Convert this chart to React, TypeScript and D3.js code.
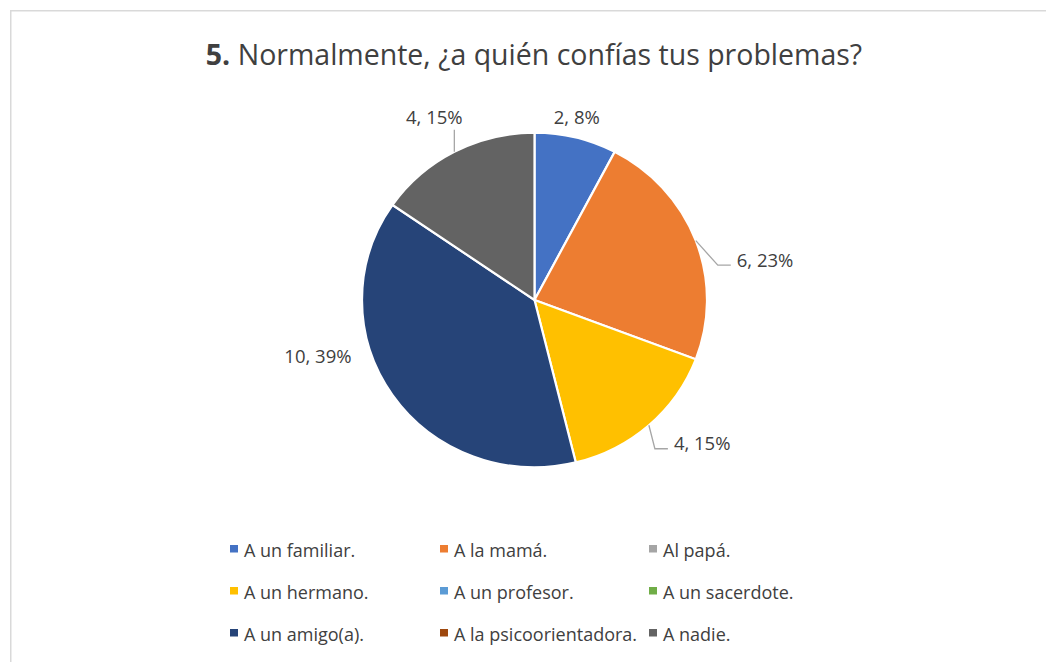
import React from "react";
import * as d3 from "d3";

const titleBold = "5.";
const titleRest = " Normalmente, ¿a quién confías tus problemas?";
const categories = [
  "A un familiar.",
  "A la mamá.",
  "Al papá.",
  "A un hermano.",
  "A un profesor.",
  "A un sacerdote.",
  "A un amigo(a).",
  "A la psicoorientadora.",
  "A nadie.",
];
const values = [2, 6, 0, 4, 0, 0, 10, 0, 4];
const percents = ["8%", "23%", "0%", "15%", "0%", "0%", "39%", "0%", "15%"];
const colors = [
  "#4472C4",
  "#ED7D31",
  "#A5A5A5",
  "#FFC000",
  "#5B9BD5",
  "#70AD47",
  "#264478",
  "#9E480E",
  "#636363",
];
// label layout per category (offset from slice edge point)
const labelLayout: Record<number, { dx: number; dy: number; anchor: string; leader: string }> = {
  0: { dx: 1, dy: -14, anchor: "middle", leader: "none" },
  1: { dx: 41, dy: 26, anchor: "start", leader: "elbow" },
  3: { dx: 25, dy: 25, anchor: "start", leader: "elbow" },
  6: { dx: -41, dy: -32, anchor: "end", leader: "none" },
  8: { dx: -20, dy: -28, anchor: "middle", leader: "up" },
};

const W = 1046;
const H = 662;
const cx = 534.5;
const cy = 300;
const rx = 172.5;
const ry = 167.3;
const FONT = "'Open Sans', sans-serif";

export default function App() {
  const pie = d3.pie<number>().sort(null).value((d) => d);
  const arcs = pie(values);
  const arcGen = d3.arc<d3.PieArcDatum<number>>().innerRadius(0).outerRadius(rx);
  const sy = ry / rx;

  const legendCols = [230, 440, 649];
  const legendRows = [557, 599, 641];

  return (
    <div style={{ position: "absolute", left: 0, top: 0 }}>
      <svg width={W} height={H} style={{ display: "block" }} fontFamily={FONT}>
        <rect x={0} y={0} width={W} height={H} fill="#fff" />
        <rect x={10.75} y={10.75} width={W + 20} height={H + 20} fill="none" stroke="#d9d9d9" strokeWidth={1.5} />
        <text x={534} y={65} textAnchor="middle" fontSize={28.5} fill="#404040">
          <tspan fontWeight="bold">{titleBold}</tspan>
          <tspan>{titleRest}</tspan>
        </text>
        <g transform={`translate(${cx},${cy}) scale(1,${sy})`}>
          {arcs.map((a, i) =>
            a.value > 0 ? (
              <path key={i} d={arcGen(a) || ""} fill={colors[i]} stroke="#fff" strokeWidth={2.2} vectorEffect="non-scaling-stroke" />
            ) : null
          )}
        </g>
        {arcs.map((a, i) => {
          if (a.value <= 0) return null;
          const lay = labelLayout[i];
          if (!lay) return null;
          const mid = (a.startAngle + a.endAngle) / 2;
          const ex = cx + rx * Math.sin(mid);
          const ey = cy - ry * Math.cos(mid);
          const tx = ex + lay.dx;
          const ty = ey + lay.dy;
          let leader = null;
          if (lay.leader === "elbow") {
            const kx = tx - 6;
            const d = `M${ex},${ey} L${kx - 13},${ty - 1.5} L${kx},${ty - 1.5}`;
            leader = <path d={d} fill="none" stroke="#a6a6a6" strokeWidth={1.3} />;
          } else if (lay.leader === "up") {
            leader = <line x1={ex} y1={ey} x2={ex} y2={ty + 6} stroke="#a6a6a6" strokeWidth={1.3} />;
          }
          return (
            <g key={"l" + i}>
              {leader}
              <text x={tx} y={ty} textAnchor={lay.anchor as any} fontSize={18.5} fill="#404040">
                {`${a.value}, ${percents[i]}`}
              </text>
            </g>
          );
        })}
        {categories.map((c, i) => {
          const col = i % 3;
          const row = Math.floor(i / 3);
          const x = legendCols[col];
          const y = legendRows[row];
          return (
            <g key={"lg" + i}>
              <rect x={x} y={y - 12} width={8} height={7.5} fill={colors[i]} />
              <text x={x + 14} y={y} fontSize={18} fill="#404040">
                {c}
              </text>
            </g>
          );
        })}
      </svg>
    </div>
  );
}
